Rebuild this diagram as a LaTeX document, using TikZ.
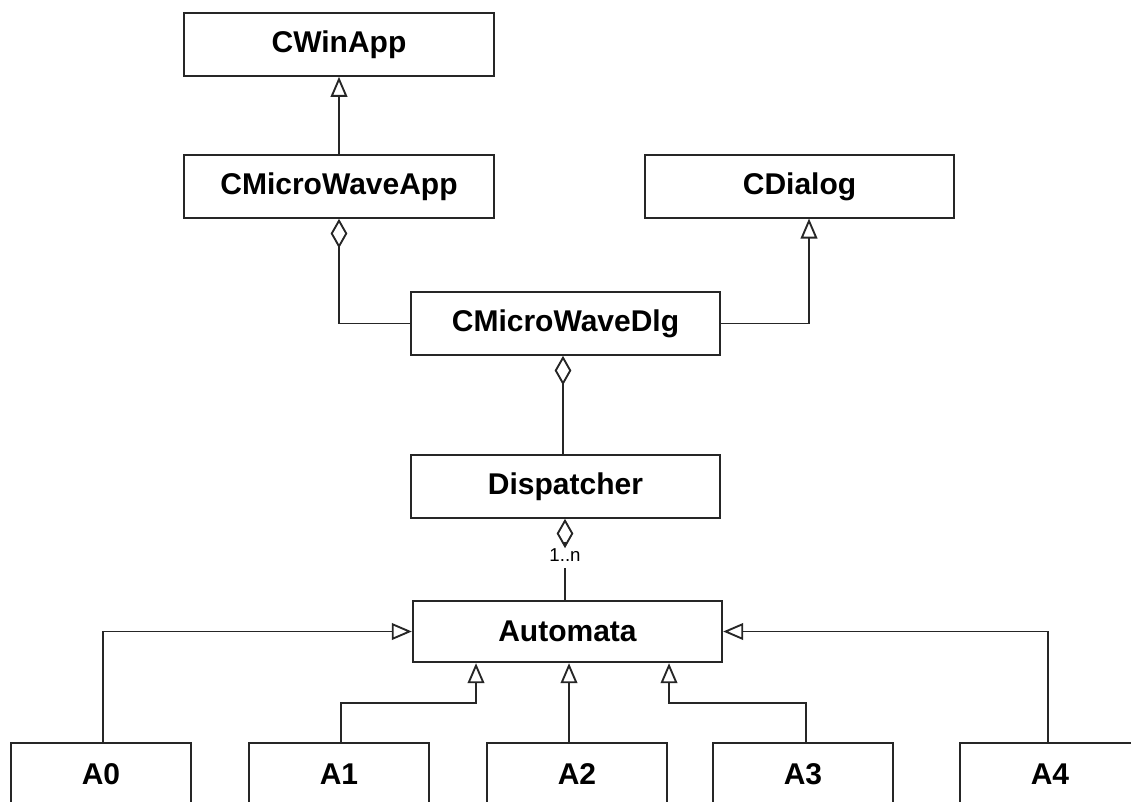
\documentclass[tikz,border=0pt]{standalone}
\usepackage{fontspec}
\setmainfont{Liberation Sans}
\usetikzlibrary{arrows.meta}
\begin{document}
\begin{tikzpicture}[x=0.75pt,y=-0.75pt,
  cls/.style={draw=black!85, line width=1.5pt, fill=white, minimum height=47pt, inner sep=0pt,
    font=\fontsize{22.5}{26}\selectfont\bfseries},
  wide/.style={cls, minimum width=232pt},
  small/.style={cls, minimum width=135pt},
  conn/.style={line width=1.4pt, draw=black!85},
  gen/.style={conn, -{Triangle[open,length=15pt,width=12.5pt,line width=1.4pt]}},
  agg/.style={conn, -{Diamond[open,length=22pt,width=12.5pt,line width=1.4pt]}},
  mult/.style={font=\fontsize{14}{16}\selectfont, inner sep=5pt}
]
\useasboundingbox (0,0) rectangle (1131,801);
\clip (0,0) rectangle (1131,801);
\fill[white] (0,0) rectangle (1131,801);

\node[wide] (cwin)  at (339,44.5)   {CWinApp};
\node[wide] (cmapp) at (339,186.5)  {CMicroWaveApp};
\node[wide] (cdlg)  at (799.5,186.5){CDialog};
\node[wide] (mdlg)  at (565.5,323.5){CMicroWaveDlg};
\node[wide] (disp)  at (565.5,486.5){Dispatcher};
\node[wide, minimum height=46pt] (auto) at (567.5,631.5){Automata};

\node[small] (a0) at (101,774.5)  {A0};
\node[small] (a1) at (339,774.5)  {A1};
\node[small] (a2) at (577,774.5)  {A2};
\node[small] (a3) at (803,774.5)  {A3};
\node[small] (a4) at (1050,774.5) {A4};

\node[mult] (m) at (565,555) {1..n};

% CWinApp <- CMicroWaveApp
\draw[gen] (cmapp.north) -- (cwin.south);
% CMicroWaveApp <>- CMicroWaveDlg
\draw[agg] (mdlg.west) -| (cmapp.south);
% CDialog <- CMicroWaveDlg
\coordinate (dx) at (809,218.5);
\draw[gen] (mdlg.east) -| (dx);
% CMicroWaveDlg <>- Dispatcher
\draw[agg] (disp.north -| 563,0) -- (mdlg.south -| 563,0);
% Dispatcher <>- Automata
\draw[agg] (m.north) -- (disp.south -| m.north);
\draw[conn] (m.south) -- (auto.north -| m.south);

% generalisations of Automata
\draw[gen] (a0.north -| 103,0) |- (auto.west);
\draw[gen] (a1.north -| 341,0) -- (341,703) -| (auto.south -| 476,0);
\draw[gen] (a2.north -| 569,0) -- (auto.south -| 569,0);
\draw[gen] (a3.north -| 806,0) -- (806,703) -| (auto.south -| 669,0);
\draw[gen] (a4.north -| 1048,0) |- (auto.east);
\end{tikzpicture}
\end{document}
